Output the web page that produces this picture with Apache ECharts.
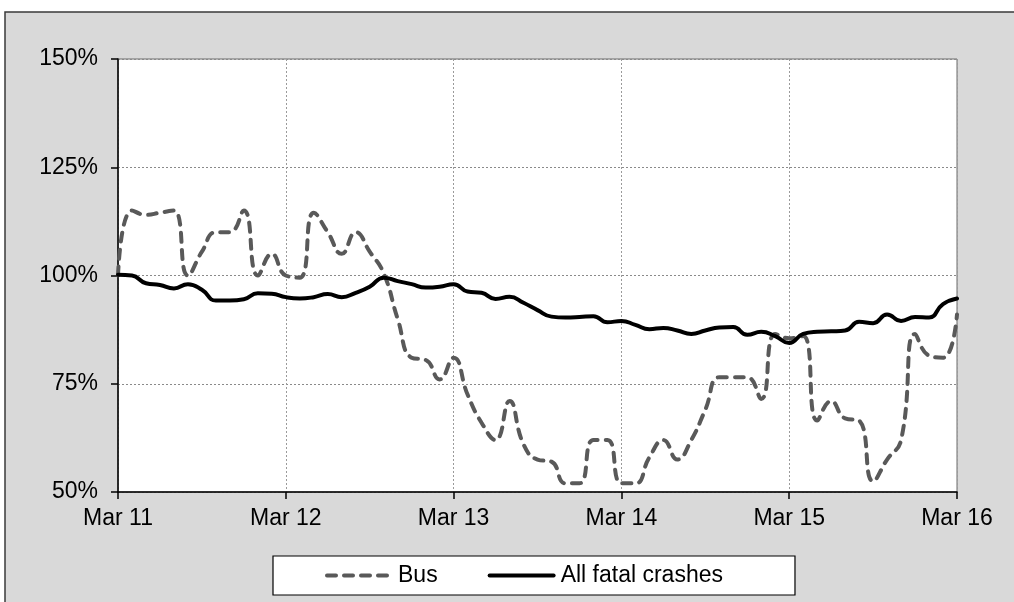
<!DOCTYPE html>
<html>
<head>
<meta charset="utf-8">
<script src="https://cdn.jsdelivr.net/npm/echarts@6/dist/echarts.min.js"></script>
<style>
html,body{margin:0;padding:0;background:#fff;}
#c{width:1014px;height:602px;}
</style>
</head>
<body>
<div id="c"></div>
<script>
// Hours since Mar 11 00:00, every 2 hours
var hours = [];
for (var i = 0; i <= 60; i++) hours.push(i * 2);

var dayLabels = ['Mar 11', 'Mar 12', 'Mar 13', 'Mar 14', 'Mar 15', 'Mar 16'];
var yTicks = [50, 75, 100, 125, 150];

var busValues = [
  100, 115, 114, 114.5, 115, 100, 105.5, 110, 110, 115, 100, 105,
  100, 99.5, 114.5, 110, 105, 110, 105.5, 100.5, 90, 81, 80.5, 76,
  81, 72.5, 66, 62, 71, 61, 57.5, 57, 52, 52, 62, 62,
  52, 52, 58, 62, 57.5, 62, 69, 76.5, 76.5, 76.5, 71.5, 86.5,
  85.5, 86, 66.5, 71, 67, 66.5, 52.5, 57.5, 62, 86.5, 81.5, 81, 91
];

var allValues = [
  100.2, 100, 98.2, 97.8, 97, 98, 96.7, 94.2, 94.2, 94.5, 95.9, 95.8,
  95, 94.7, 95, 95.7, 95, 96, 97.4, 99.5, 98.7, 98, 97.2, 97.4,
  98, 96.3, 96, 94.6, 95.1, 93.7, 92, 90.5, 90.3, 90.4, 90.6, 89.2,
  89.5, 88.6, 87.6, 87.9, 87.3, 86.5, 87.3, 88, 88.1, 86.3, 87, 86,
  84.4, 86.5, 87, 87.1, 87.3, 89.3, 89, 91, 89.5, 90.4, 90.3, 93.4, 94.7
];

function pairs(vals) {
  return vals.map(function (v, i) { return [hours[i], v]; });
}

var busLine = { color: '#595959', width: 4, type: [9, 8], cap: 'round' };
var allLine = { color: '#000000', width: 4, cap: 'round', join: 'round' };

var chart = echarts.init(document.getElementById('c'));
var font = 'Liberation Sans, Arial, sans-serif';
chart.setOption({
  animation: false,
  backgroundColor: '#ffffff',
  textStyle: { fontFamily: font },
  graphic: [{
    type: 'rect', z: -10, silent: true,
    shape: { x: 5, y: 12, width: 1030, height: 620 },
    style: { fill: '#d9d9d9', stroke: '#3a3a3a', lineWidth: 1.5 }
  }],
  grid: {
    left: 118, top: 59, right: 57, bottom: 110,
    show: true, backgroundColor: '#ffffff', borderColor: '#6b6b6b', borderWidth: 1
  },
  legend: {
    left: 273, top: 556,
    padding: [8, 72, 8, 52],
    itemGap: 50, itemWidth: 64, itemHeight: 14,
    backgroundColor: '#ffffff', borderColor: '#000000', borderWidth: 1.2,
    textStyle: { fontSize: 23, color: '#000', fontFamily: font, padding: [0, 0, 0, 2] },
    itemStyle: { opacity: 0 },
    data: [
      { name: 'Bus', itemStyle: { opacity: 0 }, lineStyle: busLine },
      { name: 'All fatal crashes', itemStyle: { opacity: 0 }, lineStyle: allLine }
    ]
  },
  xAxis: {
    type: 'value', min: 0, max: 120, interval: 24,
    axisLine: { show: true, lineStyle: { color: '#000', width: 1.5 } },
    axisTick: { show: true, inside: false, length: 7, lineStyle: { color: '#000', width: 1.5 } },
    axisLabel: {
      margin: 15, fontSize: 23, color: '#000', fontFamily: font,
      formatter: function (v) { return dayLabels[Math.round(v / 24)] || ''; }
    },
    splitLine: { show: true, lineStyle: { color: '#9a9a9a', type: [2, 2], width: 1 } }
  },
  yAxis: {
    type: 'value', min: yTicks[0], max: yTicks[yTicks.length - 1], interval: 25,
    axisLine: { show: true, lineStyle: { color: '#000', width: 1.5 } },
    axisTick: { show: true, inside: false, length: 7, lineStyle: { color: '#000', width: 1.5 } },
    axisLabel: { margin: 20, fontSize: 23, color: '#000', fontFamily: font, formatter: '{value}%' },
    splitLine: { show: true, lineStyle: { color: '#8a8a8a', type: [2, 2], width: 1 } }
  },
  series: [
    {
      name: 'Bus', type: 'line', data: pairs(busValues),
      smooth: 0.5, symbol: 'none', showSymbol: false,
      lineStyle: busLine,
      itemStyle: { color: '#595959' }
    },
    {
      name: 'All fatal crashes', type: 'line', data: pairs(allValues),
      smooth: 0.5, symbol: 'none', showSymbol: false,
      lineStyle: allLine,
      itemStyle: { color: '#000000' }
    }
  ]
});
</script>
</body>
</html>
